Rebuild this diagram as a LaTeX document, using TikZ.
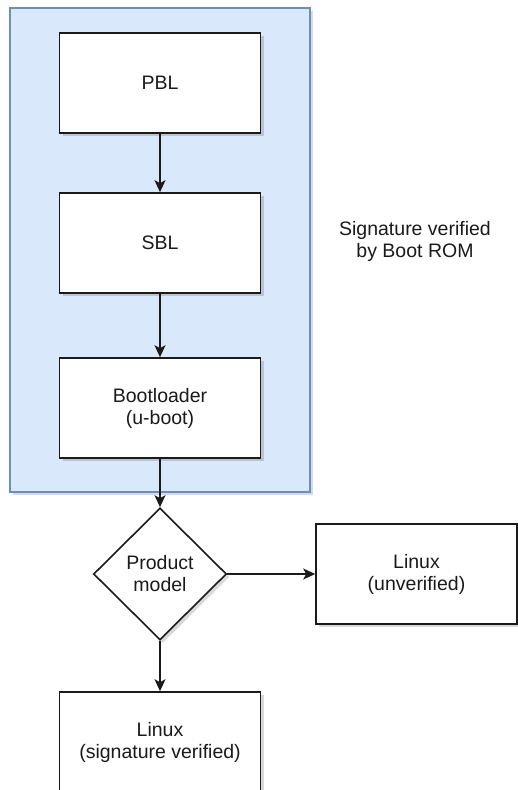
\documentclass[tikz,border=0pt]{standalone}
\usepackage{fontspec}
\setmainfont{Liberation Sans}
\usetikzlibrary{arrows.meta,shapes.geometric,shadows}
\definecolor{groupfill}{HTML}{DAE8FC}
\definecolor{groupline}{HTML}{6C8EBF}
\definecolor{ink}{HTML}{1A1A1A}
\tikzset{
  softshadow/.style={drop shadow={shadow xshift=3pt,shadow yshift=-3pt,fill=black,opacity=0.15}},
  stage/.style={draw=ink,line width=1.6pt,fill=white,minimum width=201pt,minimum height=100pt,
    inner sep=0pt,align=center,text=ink,font=\fontsize{19.5}{22}\selectfont,softshadow},
  choice/.style={diamond,aspect=1,draw=ink,line width=1.6pt,fill=white,minimum width=133pt,
    minimum height=132pt,inner sep=0pt,align=center,text=ink,font=\fontsize{19.5}{22}\selectfont,softshadow},
  flow/.style={draw=ink,line width=1.6pt,-{Stealth[length=12pt,width=11pt,inset=3pt]}},
  note/.style={align=center,text=ink,font=\fontsize{19.5}{22}\selectfont}
}
\begin{document}
\begin{tikzpicture}[x=1pt,y=-1pt]
  \useasboundingbox (0,0) rectangle (518,790);
  \clip (0,0) rectangle (518,790);
  % verified group
  \node (group) [draw=groupline,line width=1.4pt,fill=groupfill,minimum width=300pt,minimum height=484pt,
    inner sep=0pt,softshadow] at (160,250) {};
  % boot stages
  \node (pbl) [stage] at (160,83) {PBL};
  \node (sbl) [stage] at (160,243) {SBL};
  \node (uboot) [stage] at (160,408) {Bootloader\\(u-boot)};
  \node (model) [choice] at (160,574) {Product\\model};
  \node (unver) [stage] at (416.5,574) {Linux\\(unverified)};
  \node (signed) [stage] at (160,742) {Linux\\(signature verified)};
  \node (sig) [note] at (415,241) {Signature verified\\by Boot ROM};
  % connectors
  \draw[flow] (pbl) -- (sbl);
  \draw[flow] (sbl) -- (uboot);
  \draw[flow] (uboot) -- (model);
  \draw[flow] (model.east) -- (unver.west);
  \draw[flow] (model.south) -- (signed.north);
\end{tikzpicture}
\end{document}
